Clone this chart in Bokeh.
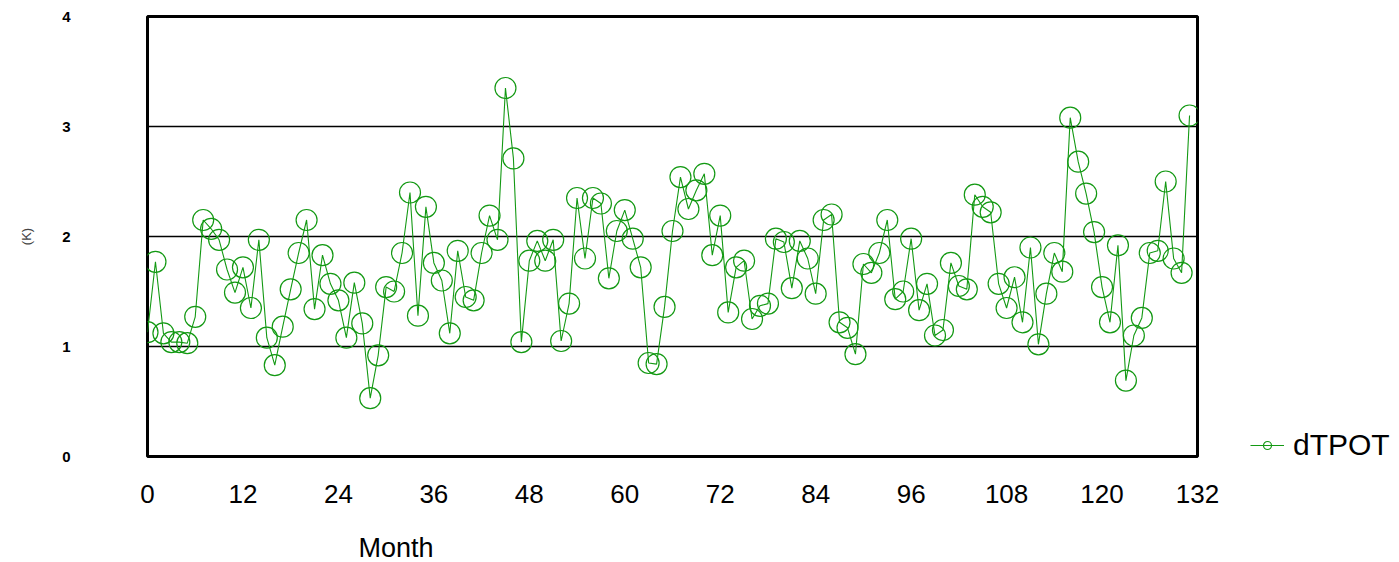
from bokeh.plotting import figure
from bokeh.models import FixedTicker, Legend, LegendItem, Range1d, Title
from bokeh.embed import file_html
from bokeh.resources import INLINE

months = list(range(132))
dtpot = [
    1.13, 1.77, 1.12, 1.04, 1.04, 1.03, 1.27, 2.15, 2.07, 1.97,
    1.70, 1.49, 1.72, 1.35, 1.97, 1.08, 0.83, 1.18, 1.52, 1.85,
    2.15, 1.34, 1.83, 1.57, 1.42, 1.08, 1.58, 1.21, 0.53, 0.92,
    1.54, 1.50, 1.85, 2.40, 1.28, 2.27, 1.76, 1.60, 1.12, 1.87,
    1.45, 1.42, 1.85, 2.19, 1.97, 3.35, 2.71, 1.04, 1.78, 1.96,
    1.78, 1.97, 1.05, 1.39, 2.35, 1.80, 2.35, 2.30, 1.62, 2.05,
    2.24, 1.98, 1.72, 0.85, 0.84, 1.36, 2.05, 2.54, 2.25, 2.42,
    2.57, 1.83, 2.19, 1.31, 1.72, 1.78, 1.25, 1.37, 1.39, 1.98,
    1.95, 1.53, 1.96, 1.80, 1.48, 2.15, 2.20, 1.22, 1.17, 0.93,
    1.75, 1.67, 1.85, 2.15, 1.43, 1.50, 1.98, 1.33, 1.57, 1.10,
    1.15, 1.76, 1.55, 1.52, 2.38, 2.27, 2.22, 1.57, 1.35, 1.63,
    1.22, 1.90, 1.02, 1.48, 1.85, 1.68, 3.08, 2.68, 2.39, 2.04,
    1.54, 1.22, 1.92, 0.69, 1.10, 1.26, 1.85, 1.87, 2.50, 1.80,
    1.67, 3.10,
]
x_ticks = [0, 12, 24, 36, 48, 60, 72, 84, 96, 108, 120, 132]
y_ticks = [0, 1, 2, 3, 4]
series_name = "dTPOT"
x_title = "Month"
y_title = "(K)"

GREEN = "#139913"
FONT = "Liberation Sans"

p = figure(frame_width=1050, frame_height=440, output_backend="svg", toolbar_location=None,
           x_range=Range1d(0, 132), y_range=Range1d(0, 4),
           min_border_left=147, min_border_right=0, min_border_top=16, min_border_bottom=0)
p.background_fill_color = "white"
p.border_fill_color = "white"
p.outline_line_color = "black"
p.outline_line_width = 3

line = p.line(months, dtpot, line_color=GREEN, line_width=1.1)
marks = p.scatter(months, dtpot, marker="circle", size=21, line_color=GREEN,
                  line_width=1.2, fill_color=None)

p.xgrid.visible = False
p.ygrid.ticker = FixedTicker(ticks=[1, 2, 3])
p.ygrid.grid_line_color = "black"
p.ygrid.grid_line_width = 1.5

p.xaxis.ticker = FixedTicker(ticks=x_ticks)
p.yaxis.ticker = FixedTicker(ticks=y_ticks)
for ax in (p.xaxis[0], p.yaxis[0]):
    ax.axis_line_color = None
    ax.major_tick_line_color = None
    ax.minor_tick_line_color = None
    ax.major_label_text_font = FONT
    ax.major_label_text_color = "black"

p.xaxis.major_label_text_font_size = "26px"
p.xaxis.major_label_standoff = 22
p.yaxis.major_label_text_font_size = "15px"
p.yaxis.major_label_text_font_style = "bold"
p.yaxis.major_label_standoff = 71
p.yaxis.axis_label = y_title
p.yaxis.axis_label_text_font = FONT
p.yaxis.axis_label_text_font_size = "13px"
p.yaxis.axis_label_text_font_style = "normal"
p.yaxis.axis_label_standoff = 25

month_title = Title(text=x_title, align="left", offset=211, standoff=50,
                    text_font=FONT, text_font_size="27px", text_font_style="normal",
                    text_color="black")
p.add_layout(month_title, "below")

legend = Legend(items=[LegendItem(label=series_name, renderers=[line, marks])],
                location=(53, -6), border_line_color=None, background_fill_alpha=0,
                label_text_font=FONT, label_text_font_size="30px", label_text_color="black",
                glyph_width=34, glyph_height=20, margin=0, padding=0,
                label_standoff=9)
p.add_layout(legend, "right")

open("out.html", "w").write(file_html(p, INLINE))
